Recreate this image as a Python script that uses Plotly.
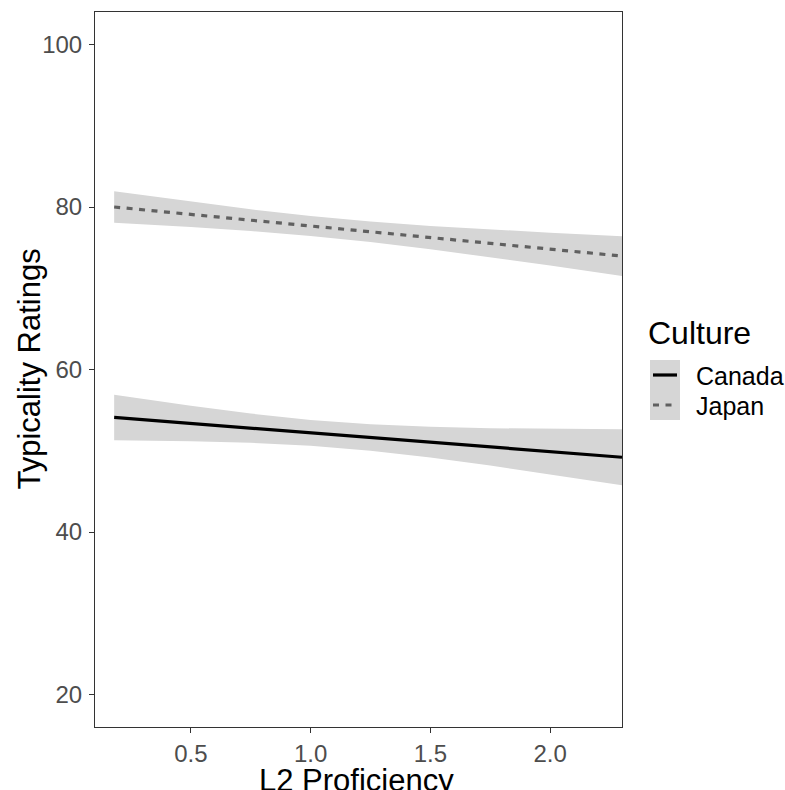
import plotly.graph_objects as go

# Fitted typicality ratings by L2 proficiency, with 95% confidence bands
proficiency = [0.18, 0.5, 0.75, 1.0, 1.25, 1.5, 1.75, 2.0, 2.3]

canada_fit = [54.10, 53.36, 52.78, 52.21, 51.63, 51.05, 50.47, 49.90, 49.20]
canada_upper = [56.90, 55.54, 54.58, 53.80, 53.26, 52.94, 52.77, 52.70, 52.65]
canada_lower = [51.30, 51.18, 50.98, 50.62, 50.00, 49.16, 48.17, 47.10, 45.75]

japan_fit = [80.00, 79.09, 78.38, 77.66, 76.95, 76.24, 75.53, 74.81, 73.96]
japan_upper = [81.95, 80.65, 79.71, 78.89, 78.21, 77.67, 77.23, 76.83, 76.41]
japan_lower = [78.05, 77.53, 77.05, 76.43, 75.69, 74.81, 73.83, 72.79, 71.51]

cultures = ["Canada", "Japan"]
x_ticks = [0.5, 1.0, 1.5, 2.0]
x_tick_text = ["0.5", "1.0", "1.5", "2.0"]
y_ticks = [20, 40, 60, 80, 100]
y_tick_text = ["20", "40", "60", "80", "100"]

FONT = "Liberation Sans, Arial, sans-serif"
BAND = "rgb(214,214,214)"
line_styles = {
    "Canada": dict(color="black", width=3.2, dash="solid"),
    "Japan": dict(color="rgb(96,96,96)", width=3.2, dash="6px,6.5px"),
}

W, H = 785, 790
M_L, M_R, M_T, M_B = 95, 163, 12, 63
PW, PH = W - M_L - M_R, H - M_T - M_B


def px_x(px):
    return (px - M_L) / PW


def px_y(py):
    return (H - M_B - py) / PH


fig = go.Figure()

series = {
    "Canada": (canada_fit, canada_upper, canada_lower),
    "Japan": (japan_fit, japan_upper, japan_lower),
}

for name in cultures:
    fit, upper, lower = series[name]
    fig.add_trace(go.Scatter(
        x=proficiency + proficiency[::-1],
        y=upper + lower[::-1],
        fill="toself", fillcolor=BAND,
        line=dict(width=0), mode="lines",
        hoverinfo="skip", showlegend=False,
    ))
for name in cultures:
    fit, upper, lower = series[name]
    fig.add_trace(go.Scatter(
        x=proficiency, y=fit, mode="lines", name=name,
        line=line_styles[name], showlegend=False,
    ))

axis_common = dict(
    showgrid=False, zeroline=False, showline=True, mirror=True,
    linecolor="rgb(51,51,51)", linewidth=1,
    ticks="outside", ticklen=5, tickwidth=1, tickcolor="rgb(51,51,51)",
    tickfont=dict(family=FONT, size=24, color="rgb(77,77,77)"),
)

fig.update_xaxes(range=[0.1, 2.3], tickvals=x_ticks, ticktext=x_tick_text,
                 ticklabelstandoff=0, **axis_common)
fig.update_yaxes(range=[16, 104], tickvals=y_ticks, ticktext=y_tick_text,
                 ticklabelstandoff=2, **axis_common)

annotations = [
    dict(text="L2 Proficiency", xref="paper", yref="paper",
         x=px_x(356), y=px_y(780), xanchor="center", yanchor="middle",
         showarrow=False, font=dict(family=FONT, size=31, color="black")),
    dict(text="Typicality Ratings", xref="paper", yref="paper",
         x=px_x(29), y=0.5, xanchor="center", yanchor="middle",
         textangle=-90, showarrow=False,
         font=dict(family=FONT, size=31, color="black")),
    dict(text="Culture", xref="paper", yref="paper",
         x=px_x(646), y=px_y(333), xanchor="left", yanchor="middle",
         showarrow=False, font=dict(family=FONT, size=32, color="black")),
]

# Legend keys: grey band background with the line style of each culture
key_x0, key_x1 = 650, 680
row_top = 360
row_h = 30
shapes = [dict(type="rect", xref="paper", yref="paper",
               x0=px_x(key_x0), x1=px_x(key_x1),
               y0=px_y(row_top), y1=px_y(row_top + row_h * len(cultures)),
               fillcolor=BAND, line=dict(width=0), layer="above")]
for i, name in enumerate(cultures):
    cy = row_top + row_h * i + row_h / 2
    st = line_styles[name]
    shapes.append(dict(type="line", xref="paper", yref="paper",
                       x0=px_x(key_x0 + 3), x1=px_x(key_x1 - 3),
                       y0=px_y(cy), y1=px_y(cy), layer="above",
                       line=dict(color=st["color"], width=st["width"],
                                 dash=st["dash"])))
    annotations.append(dict(text=name, xref="paper", yref="paper",
                            x=px_x(694), y=px_y(cy + 1), xanchor="left",
                            yanchor="middle", showarrow=False,
                            font=dict(family=FONT, size=25, color="black")))

fig.update_layout(
    width=W, height=H,
    margin=dict(l=M_L, r=M_R, t=M_T, b=M_B),
    paper_bgcolor="white", plot_bgcolor="white",
    showlegend=False,
    annotations=annotations, shapes=shapes,
)

fig.write_html("out.html")
